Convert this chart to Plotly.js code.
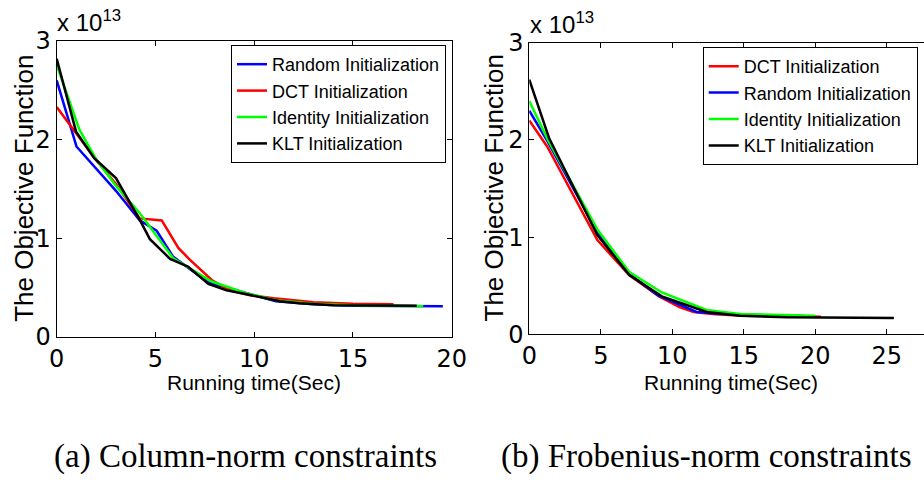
<!DOCTYPE html>
<html>
<head>
<meta charset="utf-8">
<script src="https://cdn.plot.ly/plotly-3.0.1.min.js"></script>
<style>html,body{margin:0;padding:0;background:#fff;}#chart{width:924px;height:486px;}</style>
</head>
<body>
<div id="chart"></div>
<script>
// ---- Data (objective values in units of 1e13) ----
// (a) Column-norm constraints
const colRandomX   = [0, 1.0, 3.0, 4.2, 5.06, 5.9, 7.68, 10, 11.1, 13, 15, 19.55];
const colRandomY   = [2.60, 1.93, 1.48, 1.18, 1.075, 0.81, 0.55, 0.42, 0.36, 0.33, 0.315, 0.31];
const colDctX      = [0, 0.81, 2.0, 3.0, 4.2, 5.32, 6.16, 6.75, 7.85, 8.77, 9.79, 11, 13, 15, 17.05];
const colDctY      = [2.33, 2.11, 1.79, 1.55, 1.20, 1.18, 0.90, 0.78, 0.575, 0.47, 0.42, 0.39, 0.35, 0.335, 0.33];
const colIdentityX = [0, 1.15, 2.0, 3.0, 4.22, 5.9, 7.85, 9.62, 11.1, 13, 15, 18.56];
const colIdentityY = [2.76, 2.10, 1.80, 1.53, 1.25, 0.795, 0.56, 0.44, 0.37, 0.335, 0.32, 0.31];
const colKltX      = [0, 0.98, 1.9, 3.0, 4.22, 4.72, 5.74, 6.66, 7.68, 8.6, 9.62, 10.3, 11.3, 12.3, 14, 18.23];
const colKltY      = [2.82, 2.08, 1.81, 1.61, 1.18, 0.99, 0.79, 0.71, 0.535, 0.47, 0.43, 0.40, 0.36, 0.34, 0.32, 0.315];

// (b) Frobenius-norm constraints
const froDctX      = [0, 1.26, 4.76, 6.98, 9.08, 10.5, 11.5, 13, 15, 20.4];
const froDctY      = [2.20, 1.93, 0.97, 0.61, 0.39, 0.28, 0.23, 0.205, 0.19, 0.18];
const froRandomX   = [0, 1.3, 4.8, 7, 9, 10.08, 11.7, 13.5, 15, 19];
const froRandomY   = [2.30, 1.98, 1.04, 0.62, 0.40, 0.33, 0.23, 0.21, 0.20, 0.19];
const froIdentityX = [0, 1.3, 4.8, 7, 9.27, 12.4, 14.75, 17, 20];
const froIdentityY = [2.40, 2.00, 1.07, 0.64, 0.43, 0.25, 0.21, 0.20, 0.19];
const froKltX      = [0, 1.38, 4.76, 7, 9.27, 12.4, 14.75, 18, 25.5];
const froKltY      = [2.62, 2.02, 1.02, 0.61, 0.39, 0.23, 0.19, 0.175, 0.168];

const xTicksA = [0, 5, 10, 15, 20];
const xTicksB = [0, 5, 10, 15, 20, 25];
const yTicks  = [0, 1, 2, 3];

const seriesNames = {
  random: 'Random Initialization',
  dct: 'DCT Initialization',
  identity: 'Identity Initialization',
  klt: 'KLT Initialization'
};
const captionA = '(a) Column-norm constraints';
const captionB = '(b) Frobenius-norm constraints';
const yTitle = 'The Objective Function';
const xTitle = 'Running time(Sec)';
const expText = 'x 10<sup>13</sup>';

// ---- Styling ----
const W = 924, H = 486;
const px = v => v / W;
const py = v => 1 - v / H;
const colors = {random: '#0000ff', dct: '#ff0000', identity: '#00ff00', klt: '#000000'};
const LW = 2.5;
const tickFont = {family: 'DejaVu Sans, Liberation Sans, Arial', size: 24, color: '#000'};
const legFont = {family: 'Liberation Sans, Arial', size: 18, color: '#000'};

function tr(x, y, key, xa, ya, leg) {
  return {x: x, y: y, type: 'scatter', mode: 'lines', name: seriesNames[key],
          line: {color: colors[key], width: LW}, xaxis: xa, yaxis: ya, legend: leg};
}

const data = [
  tr(colRandomX, colRandomY, 'random', 'x', 'y', 'legend'),
  tr(colDctX, colDctY, 'dct', 'x', 'y', 'legend'),
  tr(colIdentityX, colIdentityY, 'identity', 'x', 'y', 'legend'),
  tr(colKltX, colKltY, 'klt', 'x', 'y', 'legend'),
  tr(froDctX, froDctY, 'dct', 'x2', 'y2', 'legend2'),
  tr(froRandomX, froRandomY, 'random', 'x2', 'y2', 'legend2'),
  tr(froIdentityX, froIdentityY, 'identity', 'x2', 'y2', 'legend2'),
  tr(froKltX, froKltY, 'klt', 'x2', 'y2', 'legend2')
];

const axCommon = {
  showgrid: false, zeroline: false, showline: true, linecolor: '#000', linewidth: 1,
  ticks: 'inside', ticklen: 5, tickcolor: '#000', tickwidth: 1,
  tickfont: tickFont, fixedrange: true, automargin: false
};

const aL = 56.7, aR = 451.7, aT = 41, aB = 336.7;
const bL = 529.3, bR = 924, bT = 42.7, bB = 334.3;
const bXmax = (bR - bL) / ((886.7 - 529.3) / 25);

const layout = {
  width: W, height: H,
  margin: {l: 0, r: 0, t: 0, b: 0, pad: 0},
  paper_bgcolor: '#fff', plot_bgcolor: '#fff',
  showlegend: true,
  xaxis: Object.assign({}, axCommon, {domain: [px(aL), px(aR)], range: [0, 20], tickvals: xTicksA, ticktext: xTicksA.map(String), mirror: 'ticks', anchor: 'y'}),
  yaxis: Object.assign({}, axCommon, {domain: [py(aB), py(aT)], range: [0, 3], tickvals: yTicks, ticktext: yTicks.map(String), mirror: 'ticks', anchor: 'x'}),
  xaxis2: Object.assign({}, axCommon, {domain: [px(bL), 1], range: [0, bXmax], tickvals: xTicksB, ticktext: xTicksB.map(String), mirror: 'ticks', anchor: 'y2'}),
  yaxis2: Object.assign({}, axCommon, {domain: [py(bB), py(bT)], range: [0, 3], tickvals: yTicks, ticktext: yTicks.map(String), mirror: false, anchor: 'x2'}),
  legend: {x: px(231), y: py(45), xanchor: 'left', yanchor: 'top', bgcolor: '#fff', bordercolor: '#000', borderwidth: 1, font: legFont, tracegroupgap: 0},
  legend2: {x: px(702.7), y: py(47), xanchor: 'left', yanchor: 'top', bgcolor: '#fff', bordercolor: '#000', borderwidth: 1, font: legFont, tracegroupgap: 0},
  annotations: [
    {text: yTitle, xref: 'paper', yref: 'paper', x: px(24), y: py((aT + aB) / 2), textangle: -90, showarrow: false, xanchor: 'center', yanchor: 'middle', font: {family: 'Liberation Sans, Arial', size: 26, color: '#000'}},
    {text: yTitle, xref: 'paper', yref: 'paper', x: px(493), y: py((bT + bB) / 2), textangle: -90, showarrow: false, xanchor: 'center', yanchor: 'middle', font: {family: 'Liberation Sans, Arial', size: 26, color: '#000'}},
    {text: xTitle, xref: 'paper', yref: 'paper', x: px((aL + aR) / 2), y: py(382), showarrow: false, xanchor: 'center', yanchor: 'middle', font: {family: 'Liberation Sans, Arial', size: 21, color: '#000'}},
    {text: xTitle, xref: 'paper', yref: 'paper', x: px(731), y: py(382), showarrow: false, xanchor: 'center', yanchor: 'middle', font: {family: 'Liberation Sans, Arial', size: 21, color: '#000'}},
    {text: expText, xref: 'paper', yref: 'paper', x: px(55), y: py(38), showarrow: false, xanchor: 'left', yanchor: 'bottom', font: {family: 'Liberation Sans, Arial', size: 24, color: '#000'}},
    {text: expText, xref: 'paper', yref: 'paper', x: px(528), y: py(40), showarrow: false, xanchor: 'left', yanchor: 'bottom', font: {family: 'Liberation Sans, Arial', size: 24, color: '#000'}},
    {text: captionA, xref: 'paper', yref: 'paper', x: px(52), y: py(456), showarrow: false, xanchor: 'left', yanchor: 'middle', font: {family: 'Liberation Serif, DejaVu Serif, serif', size: 33, color: '#000'}},
    {text: captionB, xref: 'paper', yref: 'paper', x: px(499), y: py(456), showarrow: false, xanchor: 'left', yanchor: 'middle', font: {family: 'Liberation Serif, DejaVu Serif, serif', size: 33, color: '#000'}}
  ]
};

Plotly.newPlot('chart', data, layout, {displayModeBar: false, staticPlot: true});
</script>
</body>
</html>
